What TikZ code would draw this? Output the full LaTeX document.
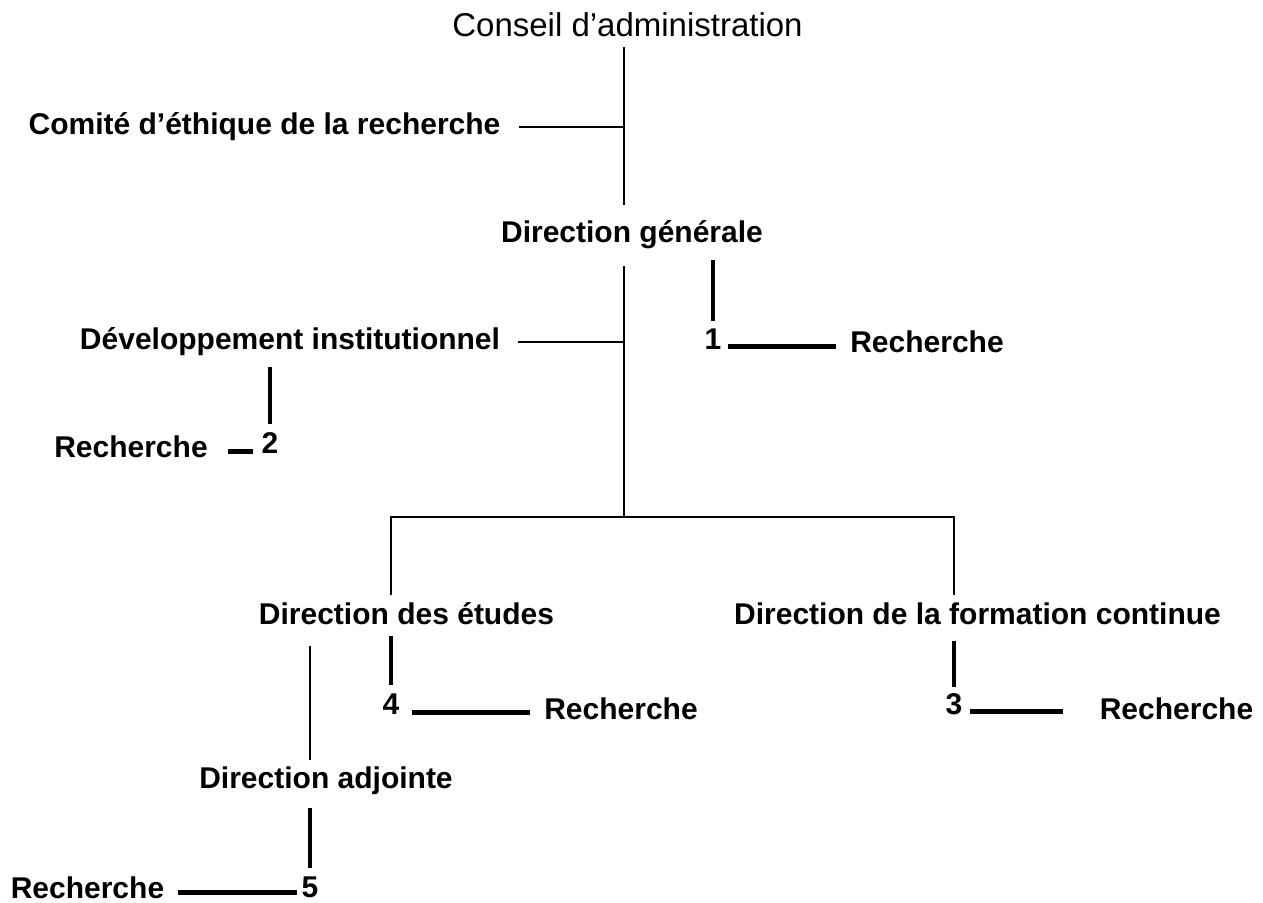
\documentclass[tikz,border=0pt]{standalone}
\usepackage{fontspec}
\setmainfont{Liberation Sans}

\begin{document}
\begin{tikzpicture}[x=0.5pt, y=-0.5pt,
    org/.style={font=\bfseries\fontsize{15}{18}\selectfont, inner sep=0pt, anchor=base},
    boardtext/.style={font=\fontsize{16.5}{20}\selectfont, inner sep=0pt, anchor=base},
    thinline/.style={line width=1pt},
    barline/.style={line width=1.4pt},
    thickline/.style={line width=2.4pt}]
  \useasboundingbox (0,0) rectangle (1263,903);
  \node[boardtext] (conseil) at (627.5,37) {Conseil d’administration};
  \node[org] (comite) at (264.5,135) {Comité d’éthique de la recherche};
  \node[org] (dg) at (632,243) {Direction générale};
  \node[org] (devinst) at (290,350) {Développement institutionnel};
  \node[org] (one) at (713,350) {1};
  \node[org] (rech1) at (927,353) {Recherche};
  \node[org] (two) at (270,453) {2};
  \node[org] (rech2) at (131,458) {Recherche};
  \node[org] (des) at (406.5,624) {Direction des études};
  \node[org] (dfc) at (977.5,624) {Direction de la formation continue};
  \node[org] (four) at (391,714) {4};
  \node[org] (rech4) at (621,719) {Recherche};
  \node[org] (three) at (954,714) {3};
  \node[org] (rech3) at (1176.5,719) {Recherche};
  \node[org] (dadj) at (326,788) {Direction adjointe};
  \node[org] (five) at (310,897) {5};
  \node[org] (rech5) at (87.5,898) {Recherche};
  \coordinate (jb) at (624,517);
  % trunk and side branches
  \draw[thinline, shorten <=4.5pt, shorten >=8pt] (conseil.south -| jb) -- (dg.north -| jb);
  \draw[thinline, shorten <=9pt] (comite.east) -- (comite.east -| jb);
  \draw[thinline, shorten <=8pt] (dg.south -| jb) -- (jb);
  \draw[thinline, shorten <=9pt] (devinst.east) -- (devinst.east -| jb);
  \draw[barline, shorten <=3.5pt, shorten >=3.5pt] (four |- des.north) |- (three |- jb) -- (three |- dfc.north);
  % research units
  \draw[thickline, shorten <=5pt, shorten >=4pt] (one |- dg.south) -- (one.north);
  \draw[thickline, shorten <=3pt, shorten >=7pt] ([yshift=-2pt]rech1.west -| one.east) -- ([yshift=-2pt]rech1.west);
  \draw[thickline, shorten <=5pt, shorten >=4pt] (two |- devinst.south) -- (two.north);
  \draw[thickline, shorten <=10pt, shorten >=4pt] ([yshift=-2pt]rech2.east) -- ([yshift=-2pt]rech2.east -| two.west);
  \draw[thickline, shorten <=5.5pt, shorten >=4pt] (four |- des.south) -- (four.north);
  \draw[thickline, shorten <=6pt, shorten >=7pt] ([yshift=-2pt]rech4.west -| four.east) -- ([yshift=-2pt]rech4.west);
  \draw[thickline, shorten <=8pt, shorten >=3pt] (three |- dfc.south) -- (three.north);
  \draw[thickline, shorten <=3.5pt, shorten >=18pt] ([yshift=-1.5pt]rech3.west -| three.east) -- ([yshift=-1.5pt]rech3.west);
  \draw[thinline, shorten <=10.5pt, shorten >=3pt] (five |- des.south) -- (five |- dadj.north);
  \draw[thickline, shorten <=6.5pt, shorten >=4pt] (five |- dadj.south) -- (five.north);
  \draw[thickline, shorten <=6.5pt, shorten >=2pt] ([yshift=-2.5pt]rech5.east) -- ([yshift=-2.5pt]rech5.east -| five.west);
\end{tikzpicture}
\end{document}
